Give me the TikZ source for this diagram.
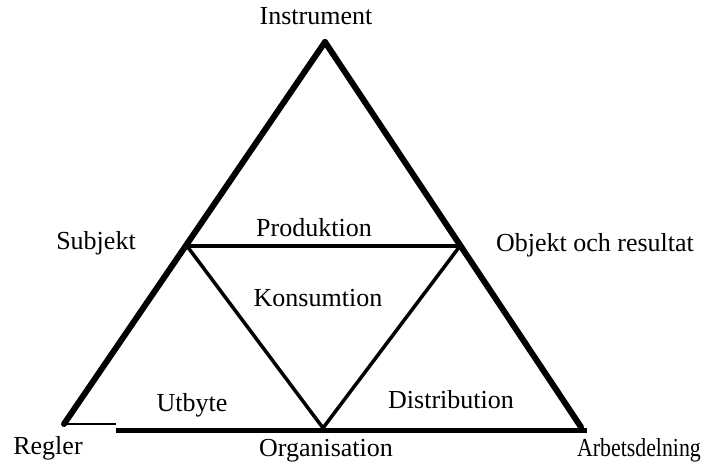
\documentclass[tikz,border=0pt]{standalone}
\usepackage{fontspec}
\setmainfont{Liberation Serif}
\usetikzlibrary{positioning}

\tikzset{
  lbl/.style={inner sep=0pt, font=\fontsize{26}{30}\selectfont},
  side/.style={line width=6pt, line cap=round, line join=round},
  inner/.style={line width=3.5pt, line join=round}
}

\begin{document}
\begin{tikzpicture}[x=1pt,y=-1pt]
\useasboundingbox (0,0) rectangle (705,468);
% corners
\coordinate (top) at (325,42);
\coordinate (rgl) at (64,424);
\coordinate (arb) at (581,427);
\coordinate (sub) at (187,246);
\coordinate (obj) at (460,246);
\coordinate (org) at (323,428);
\coordinate (bl) at (116,424);
\coordinate (bs) at (116,430);
\coordinate (be) at (587,430);
% outer triangle
\draw [side] (top) -- (rgl);
\draw [side] (top) -- (arb);
\draw [line width=2pt] (rgl) -- (bl);
\draw [line width=5pt] (bs) -- (be);
% inner triangle
\draw [inner] (sub) -- (obj);
\draw [inner] (sub) -- (org) -- (obj);
% labels
\node [lbl] (instr) at (316,16) {Instrument};
\node [lbl] (subj) at (96,243) {Subjekt};
\node [lbl] (prod) at (314,228) {Produktion};
\node [lbl] (objr) at (595,245) {Objekt och resultat};
\node [lbl] (kons) at (318,298) {Konsumtion};
\node [lbl] (utb) at (192,405) {Utbyte};
\node [lbl] (dist) at (451,400) {Distribution};
\node [lbl] (regl) at (48,448) {Regler};
\node [lbl] (orga) at (326,451) {Organisation};
\node [lbl] (arbd) at (639,450) {\scalebox{0.84}[1]{Arbetsdelning}};
\end{tikzpicture}
\end{document}
